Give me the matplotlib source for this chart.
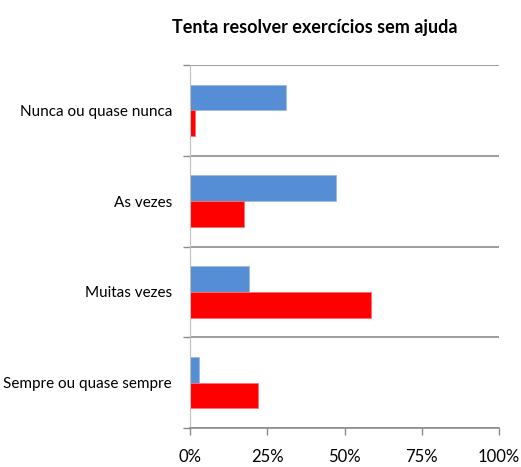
import numpy as np
import matplotlib.pyplot as plt
from matplotlib.ticker import FixedLocator, PercentFormatter

plt.rcParams['font.family'] = ['Lato', 'DejaVu Sans']

# respostas (em %) para cada frequência
categorias = ['Nunca ou quase nunca', 'As vezes', 'Muitas vezes', 'Sempre ou quase sempre']
serie_azul = [31.0, 47.2, 19.0, 2.8]
serie_vermelha = [1.7, 17.5, 58.7, 22.1]
ticks_x = [0, 25, 50, 75, 100]

fig = plt.figure(figsize=(5.21, 4.67), dpi=100)
ax = fig.add_axes([190 / 521, 1 - 428 / 467, 309 / 521, 363 / 467])

centros = np.arange(len(categorias)) + 0.5
h = 0.285
ax.barh(centros - h / 2, serie_azul, height=h, color='#558ED5', edgecolor='#9DB9E3', linewidth=0.6)
ax.barh(centros + h / 2, serie_vermelha, height=h, color='#FF0000', edgecolor='#FF7070', linewidth=0.6)

ax.set_xlim(0, 100)
ax.set_ylim(len(categorias), 0)

# separadores entre categorias
ax.yaxis.set_major_locator(FixedLocator(np.arange(len(categorias) + 1)))
ax.yaxis.set_minor_locator(FixedLocator(centros))
ax.set_yticklabels([], minor=False)
ax.set_yticklabels(categorias, minor=True)
ax.tick_params(axis='y', which='major', length=5, color='#8C8C8C', width=1)
ax.tick_params(axis='y', which='minor', length=0, labelsize=11, pad=13)
ax.grid(axis='y', which='major', color='#8C8C8C', linewidth=1.2)

ax.xaxis.set_major_locator(FixedLocator(ticks_x))
ax.xaxis.set_major_formatter(PercentFormatter(decimals=0))
ax.tick_params(axis='x', length=5, color='#8C8C8C', width=1, labelsize=12, pad=10)

for s in ['top', 'right']:
    ax.spines[s].set_visible(False)
ax.spines['left'].set_color('#BFBFBF')
ax.spines['bottom'].set_color('#8C8C8C')
ax.spines['bottom'].set_linewidth(1.2)
ax.set_axisbelow(True)

fig.text(315 / 521, 1 - 27 / 467, 'Tenta resolver exercícios sem ajuda',
         ha='center', va='center', fontsize=13, fontweight='bold')

fig.savefig('out.png', dpi=100)
